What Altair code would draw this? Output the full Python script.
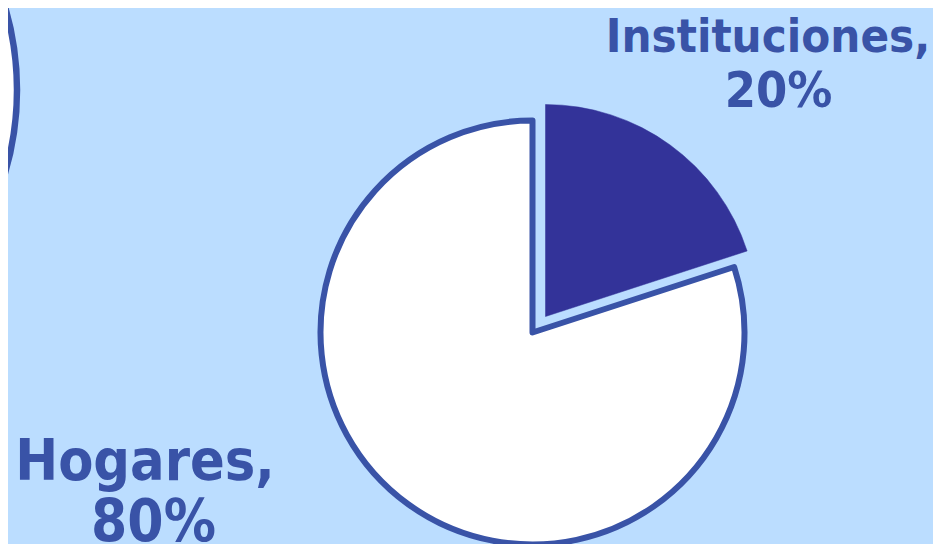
import math
import altair as alt
import pandas as pd

categories = ["Instituciones", "Hogares"]
values = [20, 80]

BG = "#BBDDFF"
BLUE = "#3953A7"
DARK = "#333399"
FONT = "DejaVu Sans Condensed, DejaVu Sans"

df = pd.DataFrame({"cat": categories, "value": values})
df["name"] = [f"{c}," for c in categories]
df["pct"] = [f"{v}%" for v in values]
total = float(sum(values))

theta_scale = alt.Scale(domain=[0, total], range=[0, 2 * math.pi])

base = alt.Chart(df).transform_stack(
    stack="value", groupby=[], as_=["t0", "t1"],
    sort=[alt.SortField("value", order="ascending")]
)

# big decorative circle at the left edge
left_circle = alt.Chart(df).transform_filter(
    alt.datum.cat == "Hogares"
).mark_arc(
    radius=294, theta=0, theta2=2 * math.pi, fill="white",
    stroke=BLUE, strokeWidth=6.5
).encode(x=alt.value(-285), y=alt.value(82))

hogares = base.transform_filter(alt.datum.cat == "Hogares").mark_arc(
    radius=212, fill="white", stroke=BLUE, strokeWidth=6, strokeJoin="round"
).encode(
    theta=alt.Theta("t0:Q", scale=theta_scale),
    theta2="t1:Q",
    x=alt.value(524.5), y=alt.value(324.5),
)

inst = base.transform_filter(alt.datum.cat == "Instituciones").mark_arc(
    radius=212, fill=DARK, stroke=DARK, strokeWidth=0.5
).encode(
    theta=alt.Theta("t0:Q", scale=theta_scale),
    theta2="t1:Q",
    x=alt.value(537.5), y=alt.value(308.5),
)


def label(cat, field, size, x, y):
    return alt.Chart(df).transform_filter(alt.datum.cat == cat).mark_text(
        font=FONT, fontWeight="bold", fontSize=size, color=BLUE,
        align="center", baseline="alphabetic"
    ).encode(text=f"{field}:N", x=alt.value(x), y=alt.value(y))


labels = [
    label("Instituciones", "name", 47, 760, 44.3),
    label("Instituciones", "pct", 50, 770.5, 98.7),
    label("Hogares", "name", 57, 137, 472),
    label("Hogares", "pct", 58, 145.5, 533),
]

chart = alt.layer(left_circle, hogares, inst, *labels).properties(
    width=925, height=536,
    autosize=alt.AutoSizeParams(type="none"),
    padding=0,
    background=BG,
).configure_view(stroke=None)

chart.save("out.html", embed_options={"renderer": "svg", "actions": False})
